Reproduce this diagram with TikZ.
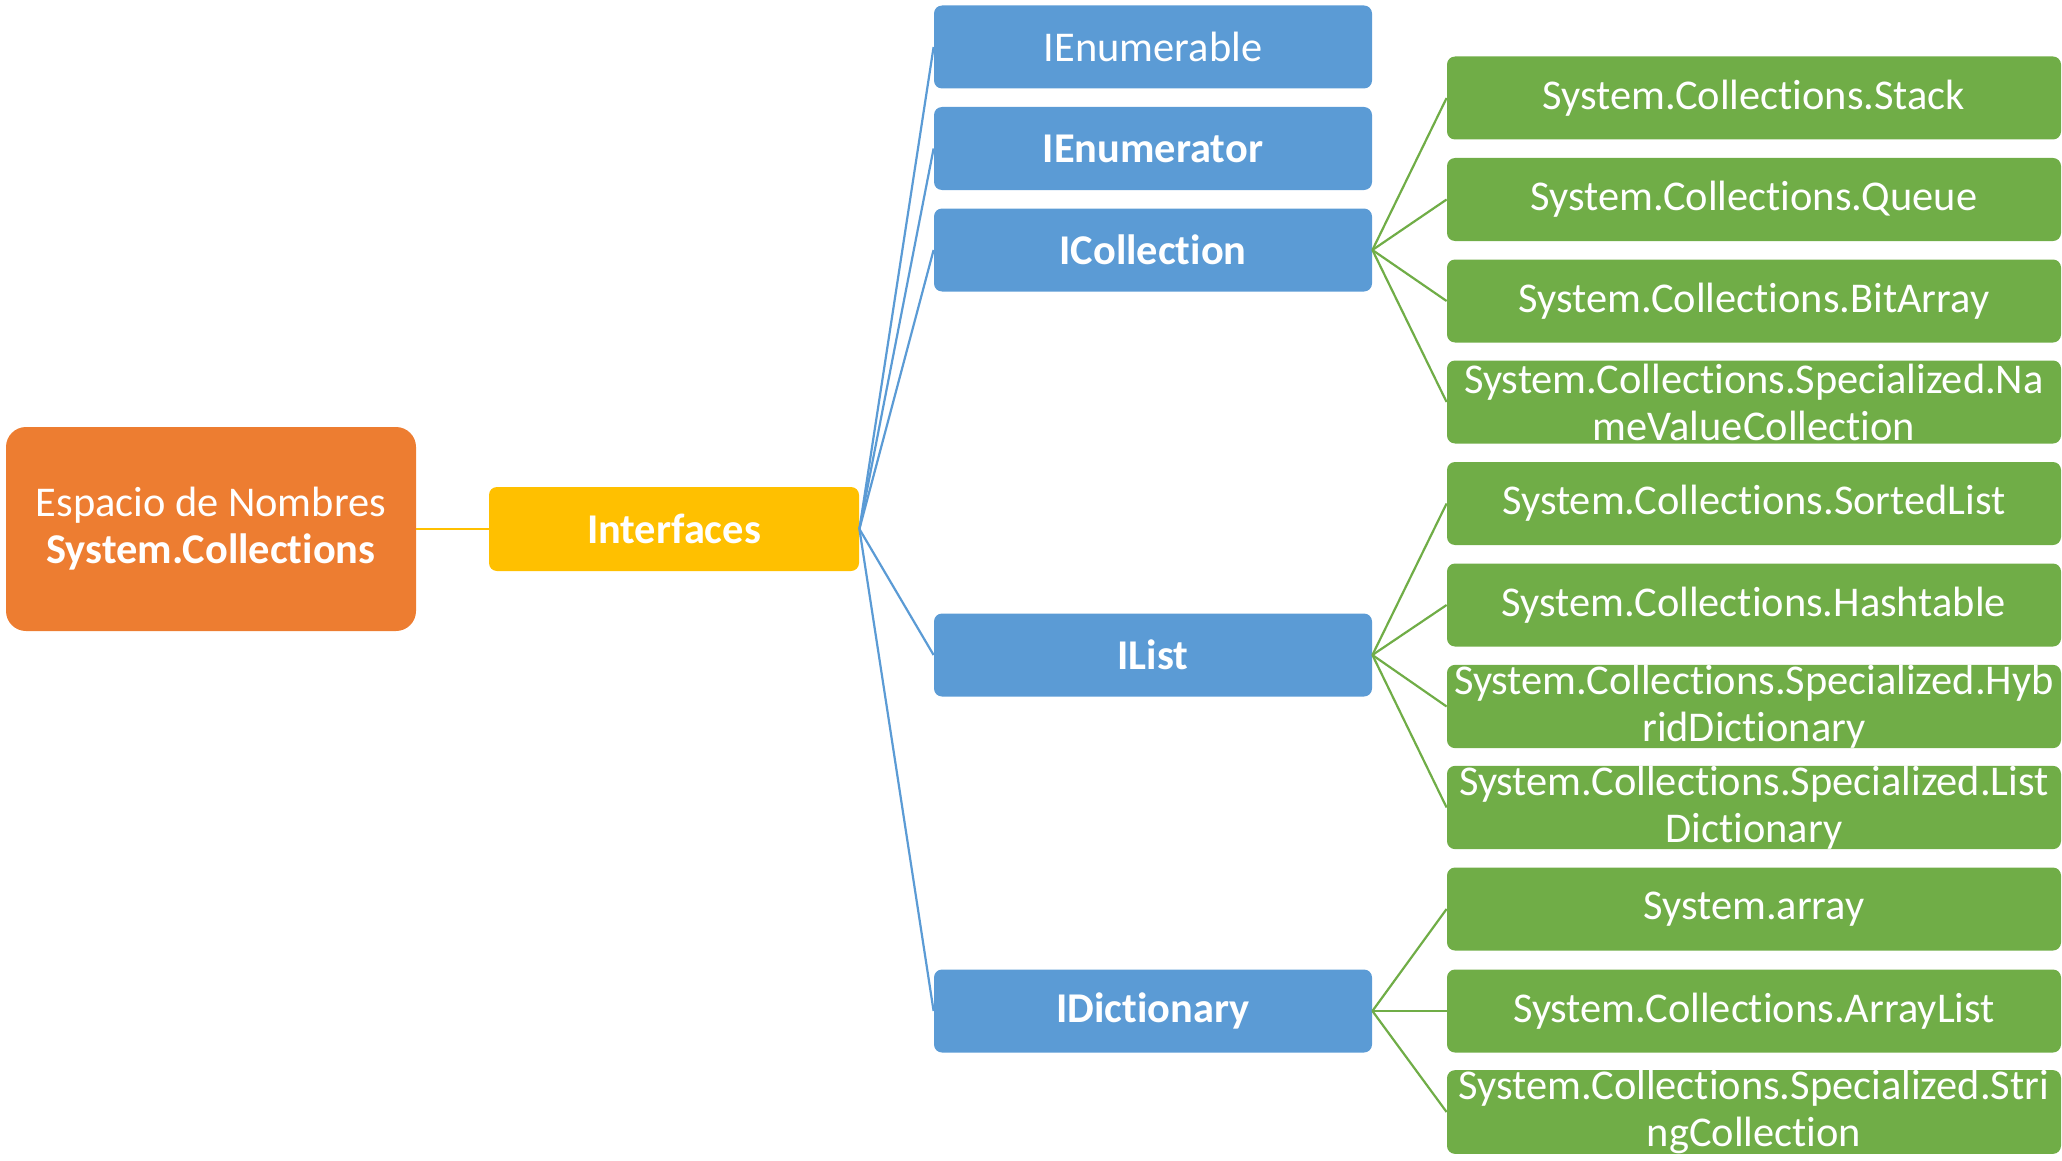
\documentclass[tikz,border=0pt]{standalone}
\usepackage{fontspec}
\setmainfont[Ligatures=NoCommon]{Carlito}
\definecolor{orangebox}{HTML}{ED7D31}
\definecolor{goldbox}{HTML}{FFC000}
\definecolor{bluebox}{HTML}{5B9BD5}
\definecolor{greenbox}{HTML}{70AD47}
\tikzset{
  base/.style={inner sep=0pt, align=center, text=white,
    font=\fontsize{21.2}{23.5}\selectfont},
  rootbox/.style={base, fill=orangebox, rounded corners=10pt,
    minimum width=205pt, minimum height=102pt},
  hubbox/.style={base, fill=goldbox, rounded corners=4pt,
    minimum width=185pt, minimum height=42pt},
  ifacebox/.style={base, fill=bluebox, rounded corners=4pt,
    minimum width=219pt, minimum height=41.5pt},
  classbox/.style={base, fill=greenbox, rounded corners=4pt,
    minimum width=307pt, minimum height=41.5pt},
  goldlink/.style={draw=goldbox, line width=1.1pt},
  bluelink/.style={draw=bluebox, line width=1.1pt},
  greenlink/.style={draw=greenbox, line width=1.1pt}
}
\begin{document}
\begin{tikzpicture}[x=0.5pt, y=-0.5pt]
\useasboundingbox (0,0) rectangle (2062,1161);

% root and hub
\node[rootbox] (root) at (211,529) {Espacio de Nombres\\\textbf{System.Collections}};
\node[hubbox] (hub) at (674,529) {\textbf{Interfaces}};

% interfaces
\node[ifacebox] (ienumerable) at (1153,47)   {IEnumerable};
\node[ifacebox] (ienumerator) at (1153,148.5) {\textbf{IEnumerator}};
\node[ifacebox] (icollection) at (1153,250)  {\textbf{ICollection}};
\node[ifacebox] (ilist)       at (1153,655)  {\textbf{IList}};
\node[ifacebox] (idictionary) at (1153,1011) {\textbf{IDictionary}};

% classes
\node[classbox] (stack)     at (1754,98)    {System.Collections.Stack};
\node[classbox] (queue)     at (1754,199.5) {System.Collections.Queue};
\node[classbox] (bitarray)  at (1754,301)   {System.Collections.BitArray};
\node[classbox] (namevalue) at (1754,402)   {System.Collections.Specialized.Na\\meValueCollection};
\node[classbox] (sorted)    at (1754,503.5) {System.Collections.SortedList};
\node[classbox] (hashtable) at (1754,605)   {System.Collections.Hashtable};
\node[classbox] (hybrid)    at (1754,706.5) {System.Collections.Specialized.Hyb\\ridDictionary};
\node[classbox] (listdict)  at (1754,807.5) {System.Collections.Specialized.List\\Dictionary};
\node[classbox] (sysarray)  at (1754,909)   {System.array};
\node[classbox] (arraylist) at (1754,1011)  {System.Collections.ArrayList};
\node[classbox] (strcoll)   at (1754,1112)  {System.Collections.Specialized.Stri\\ngCollection};

% connectors
\draw[goldlink] (root.east) -- (hub.west);
\foreach \t in {ienumerable,ienumerator,icollection,ilist,idictionary}
  \draw[bluelink] (hub.east) -- (\t.west);
\foreach \t in {stack,queue,bitarray,namevalue}
  \draw[greenlink] (icollection.east) -- (\t.west);
\foreach \t in {sorted,hashtable,hybrid,listdict}
  \draw[greenlink] (ilist.east) -- (\t.west);
\foreach \t in {sysarray,arraylist,strcoll}
  \draw[greenlink] (idictionary.east) -- (\t.west);
\end{tikzpicture}
\end{document}
